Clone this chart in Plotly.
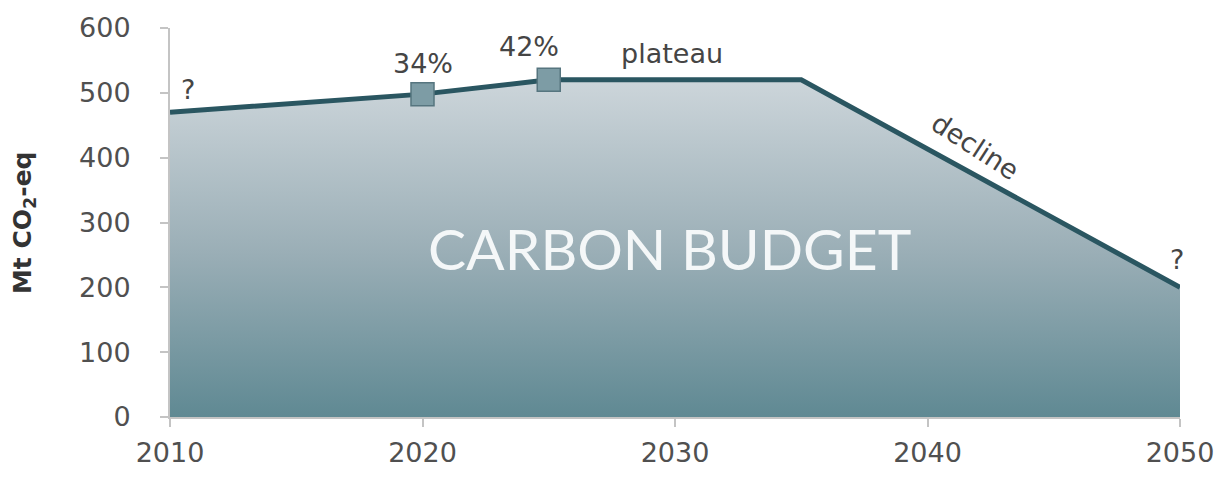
import plotly.graph_objects as go

years = [2010, 2020, 2025, 2035, 2050]
emissions = [470, 498, 520, 520, 200]
marker_idx = [1, 2]  # 2020 and 2025 milestones
marker_labels = ["34%", "42%"]
x_ticks = [2010, 2020, 2030, 2040, 2050]
y_ticks = [0, 100, 200, 300, 400, 500, 600]

fig = go.Figure()
fig.add_trace(go.Scatter(
    x=years, y=emissions, mode="lines", fill="tozeroy",
    line=dict(color="#2a5661", width=5),
    fillgradient=dict(type="vertical", start=0, stop=520,
                      colorscale=[[0, "#5c8791"], [0.5, "#9aaeb6"], [1, "#ccd5da"]]),
    hoverinfo="skip", showlegend=False,
))
fig.add_trace(go.Scatter(
    x=[years[i] for i in marker_idx], y=[emissions[i] for i in marker_idx],
    mode="markers",
    marker=dict(symbol="square", size=23, color="#7d9ca5",
                line=dict(color="#56757f", width=1.5)),
    hoverinfo="skip", showlegend=False,
))

txt = dict(family="DejaVu Sans", size=27, color="#454545")
ann = [
    dict(x=2010.7, y=505, text="?"),
    dict(x=years[marker_idx[0]], y=545, text=marker_labels[0]),
    dict(x=2024.2, y=571, text=marker_labels[1]),
    dict(x=2029.9, y=560, text="plateau"),
    dict(x=2041.9, y=418, text="decline", textangle=33),
    dict(x=2049.9, y=243, text="?"),
]
for a in ann:
    fig.add_annotation(showarrow=False, font=txt, xanchor="center", yanchor="middle", **a)

fig.add_annotation(x=2029.8, y=261, text="CARBON BUDGET", showarrow=False,
                   font=dict(family="Lato", size=57, color="#f4f7f8"))
fig.add_annotation(xref="paper", yref="paper", x=-0.145, y=0.5, text="<b>Mt CO<sub>2</sub>-eq</b>",
                   textangle=-90, showarrow=False,
                   font=dict(family="DejaVu Sans", size=25, color="#333333"),
                   xanchor="center", yanchor="middle")

axis_common = dict(showgrid=False, zeroline=False, showline=True, linecolor="#c4c4c4",
                   linewidth=2, ticks="outside", ticklen=8, tickcolor="#c4c4c4", tickwidth=2,
                   tickfont=dict(family="DejaVu Sans", size=27, color="#505050"))
fig.update_xaxes(range=[2010, 2050], tickvals=x_ticks, ticklabelstandoff=3, **axis_common)
fig.update_yaxes(range=[0, 600], tickvals=y_ticks, ticklabelstandoff=24, **axis_common)

fig.update_layout(width=1226, height=480, margin=dict(l=170, r=41, t=23, b=59),
                  plot_bgcolor="white", paper_bgcolor="white")
fig.write_html("out.html")
